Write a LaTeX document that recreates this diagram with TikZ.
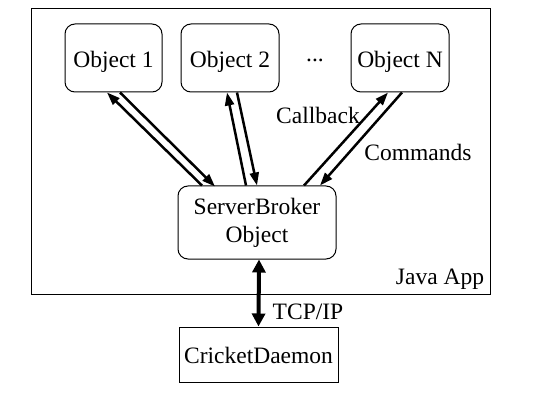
\documentclass[tikz,border=0pt]{standalone}
\usepackage{fontspec}
\setmainfont{Liberation Serif}
\usetikzlibrary{arrows.meta,calc}
\begin{document}
\begin{tikzpicture}[x=1pt,y=-1pt,
  every node/.style={font=\fontsize{23.5}{28}\selectfont},
  obj/.style={draw,line width=1pt,rounded corners=10pt,inner sep=0pt,align=center},
  plainbox/.style={draw,line width=1pt,inner sep=0pt},
  lbl/.style={inner sep=0pt},
  link/.style={line width=2.5pt,-{Triangle[length=13pt,width=9pt]}},
  tcp/.style={line width=4pt,{Triangle[length=13pt,width=13pt]}-{Triangle[length=13pt,width=13pt]}}
]
\useasboundingbox (0,0) rectangle (533,409);
\node[plainbox,minimum width=459pt,minimum height=285pt] (frame) at (260.5,151.5) {};
\node[obj,minimum width=97pt,minimum height=68pt,text height=20pt,text depth=0pt] (o1) at (113.5,58) {Object 1};
\node[obj,minimum width=98pt,minimum height=68pt,text height=20pt,text depth=0pt] (o2) at (230,58) {Object 2};
\node[obj,minimum width=98pt,minimum height=68pt,text height=20pt,text depth=0pt] (oN) at (400,58) {Object N};
\node[lbl] (dots) at (315,60) {...};
\node[obj,minimum width=158pt,minimum height=73pt] (sb) at (257,222.5) {\raisebox{-3pt}{ServerBroker}\\\raisebox{-3pt}{Object}};
\node[plainbox,minimum width=159pt,minimum height=55pt,text height=17pt,text depth=0pt] (cd) at (258.5,354.5) {CricketDaemon};
\node[lbl] (java) at (440,279) {Java App};
\node[lbl] (cb) at (318,115) {Callback};
\node[lbl] (cmd) at (418,152) {Commands};
\node[lbl] (tcpl) at (308,312) {TCP/IP};
% Object 1
\draw[link] ([xshift=-55pt]sb.north) -- ([xshift=-6.5pt]o1.south);
\draw[link] ([xshift=6.5pt]o1.south) -- ([xshift=-42pt,yshift=-1pt]sb.north);
% Object 2
\draw[link] ([xshift=-11pt]sb.north) -- ([xshift=-3pt]o2.south);
\draw[link] ([xshift=7pt]o2.south) -- ([xshift=0pt]sb.north);
% Object N
\draw[link] ([xshift=47pt]sb.north) -- ([xshift=-12pt]oN.south);
\draw[link] ([xshift=2pt]oN.south) -- ([xshift=63pt]sb.north);
% TCP
\draw[tcp] ([xshift=2pt]sb.south) -- (cd.north);
\end{tikzpicture}
\end{document}
